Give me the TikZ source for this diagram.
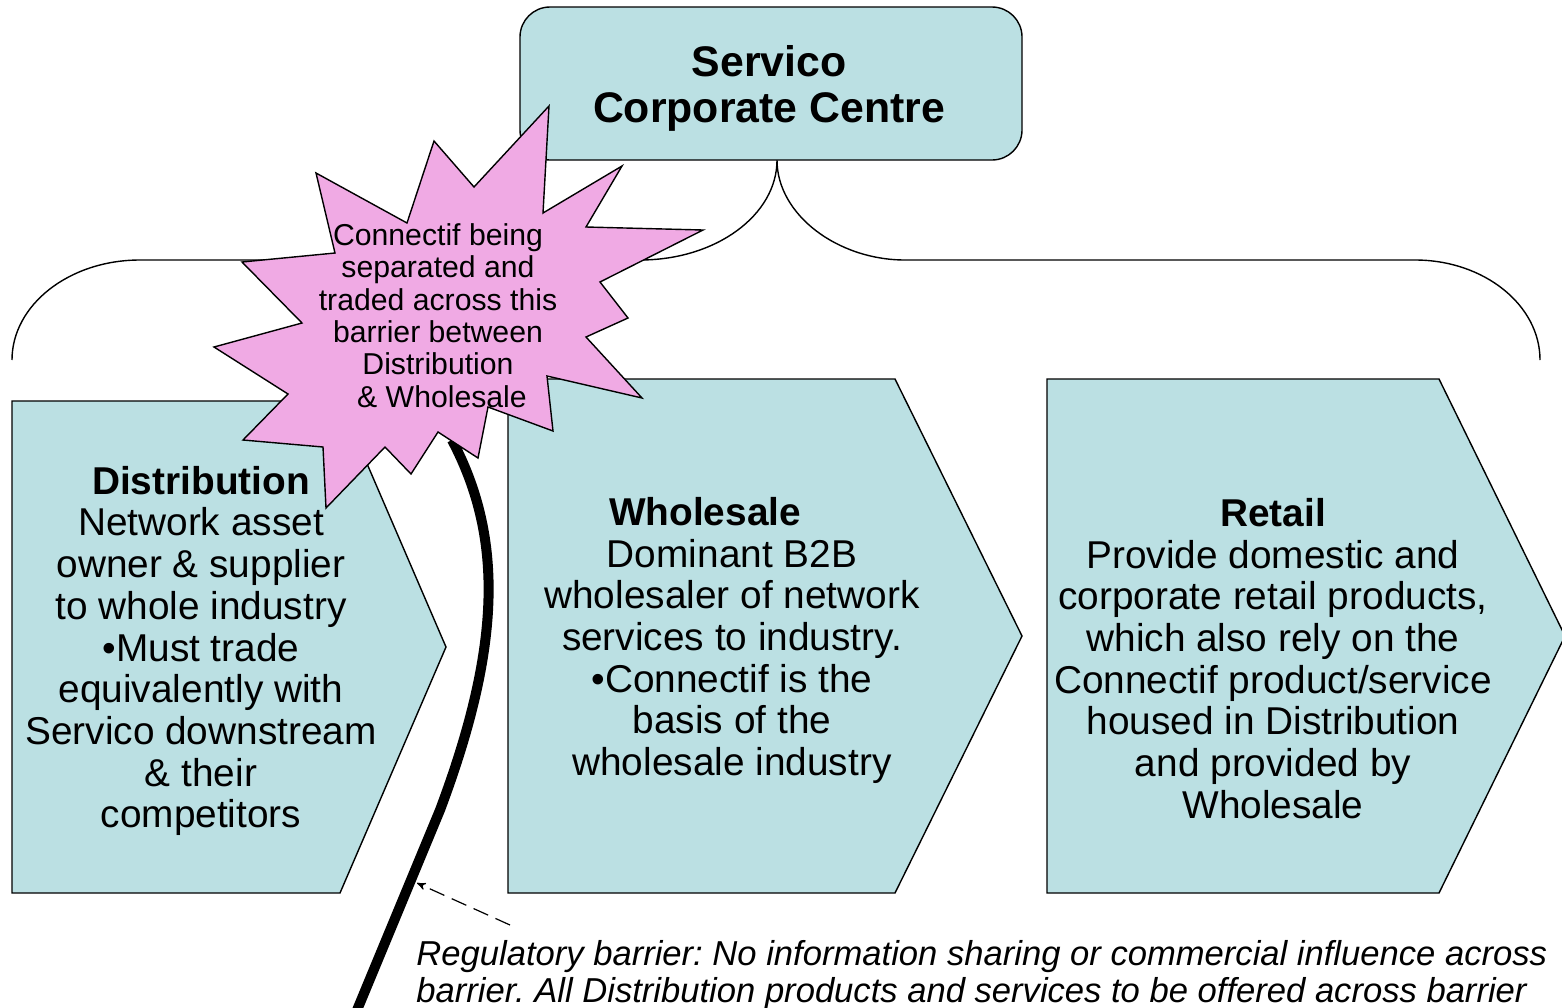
\documentclass[tikz,border=0pt]{standalone}
\usepackage{fontspec}
\setmainfont{Liberation Sans}
\usetikzlibrary{positioning, arrows}
\definecolor{paleteal}{HTML}{BBE0E3}
\definecolor{burstpink}{HTML}{F0AAE4}
\frenchspacing

\begin{document}
\begin{tikzpicture}[x=0.5pt,y=-0.5pt,>=stealth',
    unit/.style={fill=paleteal,draw=black,line width=0.7pt},
    unit text/.style={align=center,inner sep=0pt,font=\fontsize{19.4pt}{20.85pt}\selectfont},
    burst text/.style={align=center,inner sep=0pt,font=\fontsize{15.1pt}{16.15pt}\selectfont},
    centre node/.style={unit,rounded corners=15pt,minimum width=251pt,minimum height=76.5pt,
                        align=center,font=\fontsize{21.4pt}{23pt}\selectfont\bfseries}]

    \useasboundingbox (0,0) rectangle (1562,1007);

    % brace linking the centre to the three businesses
    \draw[line width=0.7pt] (12,360) .. controls (12,305) and (69,260) .. (140,260) -- (640,260)
        .. controls (716,260) and (777,215) .. (777,160)
        .. controls (777,215) and (838,260) .. (905,260) -- (1415,260)
        .. controls (1484,260) and (1540,305) .. (1540,360);

    \node[centre node] (centre) at (771,83.5) {};
    \node[align=center,inner sep=0pt,font=\fontsize{21.4pt}{23pt}\selectfont\bfseries] (title) at (769,88)
        {Servico\\Corporate Centre};

    % the three businesses
    \filldraw[unit] (12,401) -- (340,401) -- (446,647) -- (340,893) -- (12,893) -- cycle;
    \filldraw[unit] (508,379) -- (895,379) -- (1022,636) -- (895,893) -- (508,893) -- cycle;
    \filldraw[unit] (1047,379) -- (1439,379) -- (1565,636) -- (1439,893) -- (1047,893) -- cycle;

    % the barrier
    \draw[line width=5pt] (452,440) .. controls (505,540) and (500,650) .. (440,810) -- (355,1015);
    \coordinate (hit) at (417,883);
    \coordinate (tail) at (510,925);

    % burst over the barrier
    \filldraw[fill=burstpink,draw=black,line width=0.7pt]
        (549,106) -- (543,213) -- (622,166) -- (586,227) -- (703,230) -- (600,282)
        -- (628,318) -- (586,337) -- (642,398) -- (547,376) -- (553,431) -- (488,407)
        -- (478,458) -- (438,432) -- (411,474) -- (385,447) -- (326,508) -- (323,447)
        -- (243,440) -- (288,394) -- (214,347) -- (302,323) -- (242,262) -- (335,253)
        -- (316,173) -- (407,223) -- (434,141) -- (474,187) -- cycle;

    \node[burst text] (burst) at (438,315.5)
        {Connectif being\\separated and\\traded across this\\barrier between\\Distribution\\\hspace*{4pt}\& Wholesale};

    \node[unit text] (dist) at (201,651)
        {\textbf{Distribution}\\Network asset\\owner \& supplier\\to whole industry\\•Must trade\\equivalently with\\Servico downstream\\\& their\\competitors};
    \node[unit text] (whole) at (732,640.5)
        {\textbf{Wholesale}\hspace*{27pt}\\Dominant B2B\\wholesaler of network\\services to industry.\\•Connectif is the\\basis of the\\wholesale industry};
    \node[unit text] (retail) at (1273,658.5)
        {\textbf{Retail}\\Provide domestic and\\corporate retail products,\\which also rely on the\\Connectif product/service\\housed in Distribution\\and provided by\\Wholesale};

    \node[anchor=north west,inner sep=0pt,align=left,font=\fontsize{17.3pt}{18.5pt}\selectfont\itshape] (note) at (416,940)
        {Regulatory barrier: No information sharing or commercial influence across\\barrier. All Distribution products and services to be offered across barrier};

    \path (tail) edge[->,dash pattern=on 8pt off 4pt,line width=0.6pt] (hit);
\end{tikzpicture}
\end{document}
